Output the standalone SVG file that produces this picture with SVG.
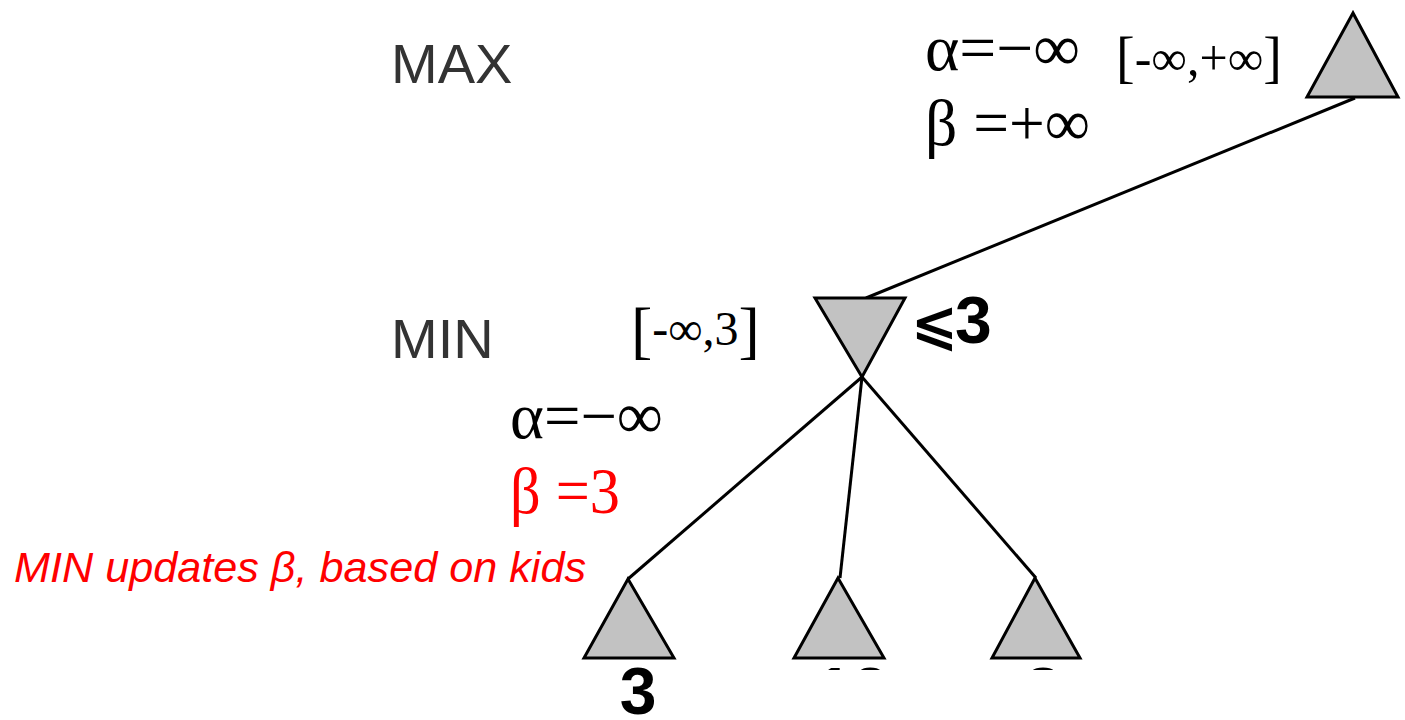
<svg xmlns="http://www.w3.org/2000/svg" width="1405" height="720" viewBox="0 0 1405 720">
<defs>
<style>
.tri{fill:#c2c2c2;stroke:#000;stroke-width:3;stroke-linejoin:miter}
.edge{stroke:#000;stroke-width:3;fill:none}
.lvl{font-family:"Liberation Sans",Arial,sans-serif;font-size:56px;fill:#333}
.math{font-family:"Liberation Serif","Times New Roman",serif;font-size:66px;fill:#000}
.rng{font-family:"Liberation Serif","Times New Roman",serif;font-size:46px;fill:#000}
.val{font-family:"Liberation Sans",Arial,sans-serif;font-weight:bold;font-size:66px;fill:#000}
.red{fill:#ff0000}
.note{font-family:"Liberation Sans",Arial,sans-serif;font-style:italic;font-size:42px;fill:#ff0000}
</style>
<clipPath id="cut"><rect x="0" y="0" width="1405" height="670"/></clipPath>
</defs>
<rect width="1405" height="720" fill="#fff"/>
<g id="connectors">
<line class="edge" x1="1355" y1="98" x2="866" y2="298"/>
<line class="edge" x1="862" y1="377" x2="628" y2="579"/>
<line class="edge" x1="862" y1="377" x2="840" y2="578"/>
<line class="edge" x1="862" y1="377" x2="1036" y2="578"/>
</g>
<g id="labels">
<text class="lvl" x="391" y="83">MAX</text>
<text class="lvl" x="391" y="358">MIN</text>
</g>
<g id="root">
<polygon class="tri" points="1353,13 1307,97 1398,97"/>
<text class="math" x="925" y="70" textLength="155" lengthAdjust="spacingAndGlyphs">α=−∞</text>
<text class="math" x="925" y="145" textLength="165" lengthAdjust="spacingAndGlyphs">β =+∞</text>
<text class="rng" x="1116" y="76"><tspan font-size="56">[</tspan><tspan dy="-1" font-size="50">-∞,+∞</tspan><tspan dy="1" font-size="56">]</tspan></text>
</g>
<g id="min">
<polygon class="tri" points="815,298 905,298 862,377"/>
<text class="val" x="911" y="343" style="font-family:'DejaVu Sans',sans-serif;font-size:56px">⩽</text>
<text class="val" x="955" y="343">3</text>
<text class="rng" x="631" y="351"><tspan font-size="64">[</tspan><tspan dy="-6" font-size="48">-∞,3</tspan><tspan dy="6" font-size="64">]</tspan></text>
<text class="math" x="510" y="438" textLength="153" lengthAdjust="spacingAndGlyphs">α=−∞</text>
<text class="math red" x="510" y="513" textLength="110" lengthAdjust="spacingAndGlyphs">β =3</text>
<text class="note" x="14" y="582" textLength="572" lengthAdjust="spacingAndGlyphs">MIN updates β, based on kids</text>
</g>
<g id="leaf1">
<polygon class="tri" points="628,579 584,658 674,658"/>
<text class="val" x="638" y="714" text-anchor="middle">3</text>
</g>
<g id="leaf2">
<polygon class="tri" points="838,578 794,658 884,658"/>
<text class="val" x="852" y="714" text-anchor="middle" clip-path="url(#cut)">12</text>
</g>
<g id="leaf3">
<polygon class="tri" points="1035,578 992,658 1080,658"/>
<text class="val" x="1043" y="714" text-anchor="middle" clip-path="url(#cut)">8</text>
</g>
</svg>
